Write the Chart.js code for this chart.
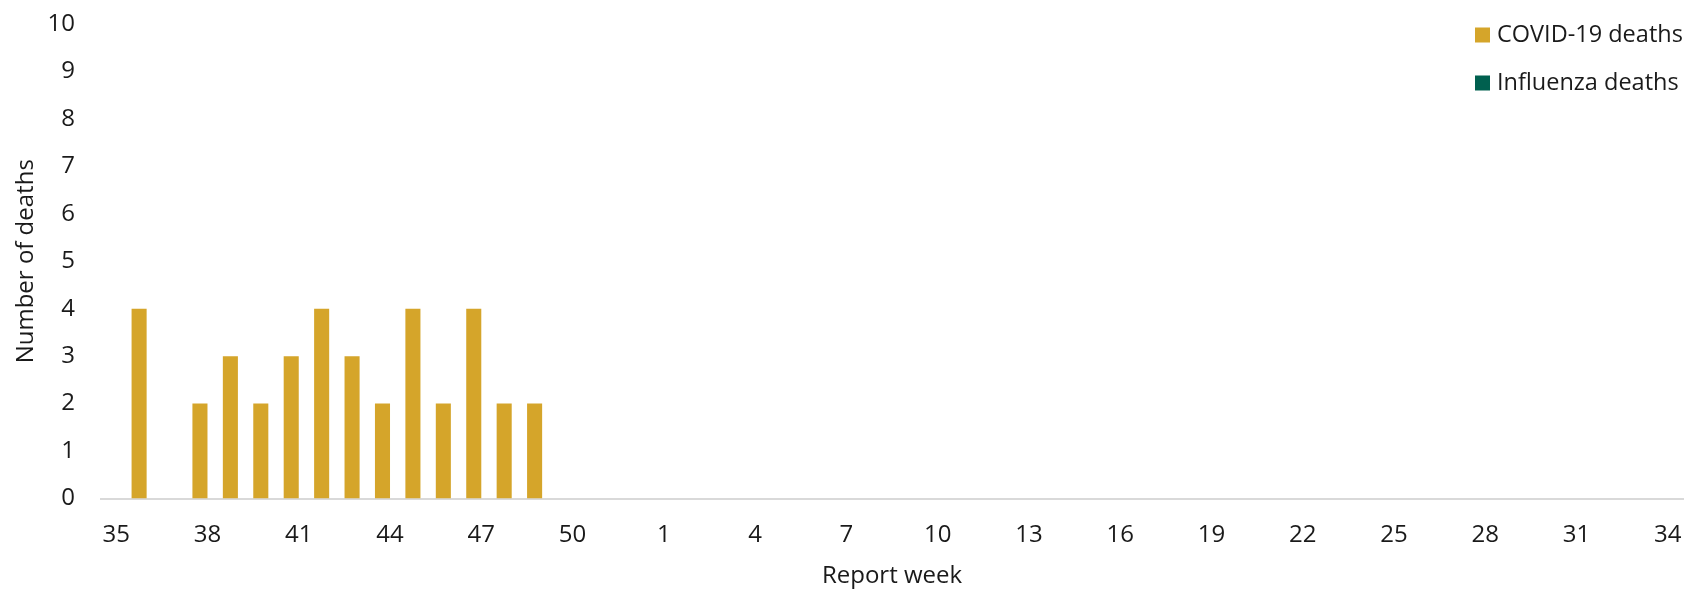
<!DOCTYPE html>
<html>
<head>
<meta charset="utf-8">
<script src="https://cdn.jsdelivr.net/npm/chart.js@4/dist/chart.umd.min.js"></script>
<style>
    html, body { margin: 0; padding: 0; background: #ffffff; }
    #wrap { width: 1688px; height: 589px; position: relative; }
</style>
</head>
<body>
<div id="wrap"><canvas id="deathsChart"></canvas></div>
<script>
// Report weeks (week 35 of one year to week 34 of the next)
const weeks = [
    '35', '36', '37', '38', '39', '40', '41', '42', '43', '44', '45', '46', '47', '48', '49', '50', '51', '52',
    '1', '2', '3', '4', '5', '6', '7', '8', '9', '10', '11', '12', '13', '14', '15', '16', '17',
    '18', '19', '20', '21', '22', '23', '24', '25', '26', '27', '28', '29', '30', '31', '32', '33', '34'
];

// Weeks reported so far (35 to 49)
const covidDeaths = [0, 4, 0, 2, 3, 2, 3, 4, 3, 2, 4, 2, 4, 2, 2];
const influenzaDeaths = [0, 0, 0, 0, 0, 0, 0, 0, 0, 0, 0, 0, 0, 0, 0];

const colors = {
    covid: '#d5a52a',
    influenza: '#00604f',
    axis: '#d9d9d9',
    text: '#1a1a1a'
};

const fontFamily = "'Open Sans', 'Noto Sans', sans-serif";

// Legend in the top right corner, week labels (every third) and the x axis title
const extraText = {
    id: 'extraText',
    afterDraw(chart) {
        const ctx = chart.ctx;
        ctx.save();
        ctx.font = '23.5px ' + fontFamily;
        ctx.textBaseline = 'middle';
        ctx.textAlign = 'left';
        chart.data.datasets.forEach((ds, i) => {
            const y = 35 + i * 48;
            ctx.fillStyle = ds.backgroundColor;
            ctx.fillRect(1475, y - 7.5, 15, 15);
            ctx.fillStyle = colors.text;
            ctx.fillText(ds.label, 1497, y);
        });

        const xScale = chart.scales.x;
        const area = chart.chartArea;
        ctx.font = '24px ' + fontFamily;
        ctx.textAlign = 'center';
        ctx.textBaseline = 'alphabetic';
        xScale.ticks.forEach((tick, i) => {
            if (i % 3 !== 0) return;
            ctx.fillText(xScale.getLabelForValue(tick.value), xScale.getPixelForTick(i), 542);
        });
        ctx.fillText('Report week', (area.left + area.right) / 2, 583);
        ctx.restore();
    }
};

const ctx = document.getElementById('deathsChart').getContext('2d');
new Chart(ctx, {
    type: 'bar',
    data: {
        labels: weeks,
        datasets: [
            {
                label: 'COVID-19 deaths',
                data: covidDeaths,
                backgroundColor: colors.covid,
                borderWidth: 0
            },
            {
                label: 'Influenza deaths',
                data: influenzaDeaths,
                backgroundColor: colors.influenza,
                borderWidth: 0
            }
        ]
    },
    options: {
        responsive: true,
        maintainAspectRatio: false,
        animation: false,
        datasets: {
            bar: {
                categoryPercentage: 0.99,
                barPercentage: 1.0
            }
        },
        layout: {
            padding: { top: 24, right: 5, bottom: 0, left: 0 }
        },
        scales: {
            x: {
                afterFit: function(scale) {
                    scale.height = 90.5;
                    scale.paddingLeft = 0;
                    scale.paddingRight = 0;
                },
                grid: { display: false, drawTicks: false },
                border: { display: true, color: colors.axis, width: 2 },
                ticks: {
                    display: false,
                    autoSkip: false
                },
                title: { display: false }
            },
            y: {
                min: 0,
                max: 10,
                afterFit: function(scale) {
                    scale.width = 101;
                    scale.paddingTop = 0;
                    scale.paddingBottom = 0;
                },
                grid: { display: false, drawTicks: false },
                border: { display: false },
                ticks: {
                    stepSize: 1,
                    padding: 26,
                    color: colors.text,
                    font: { family: fontFamily, size: 24 }
                },
                title: {
                    display: true,
                    text: 'Number of deaths',
                    color: colors.text,
                    font: { family: fontFamily, size: 24 },
                    padding: { top: 12, bottom: 4 }
                }
            }
        },
        plugins: {
            legend: { display: false },
            tooltip: { enabled: false }
        }
    },
    plugins: [extraText]
});
</script>
</body>
</html>
